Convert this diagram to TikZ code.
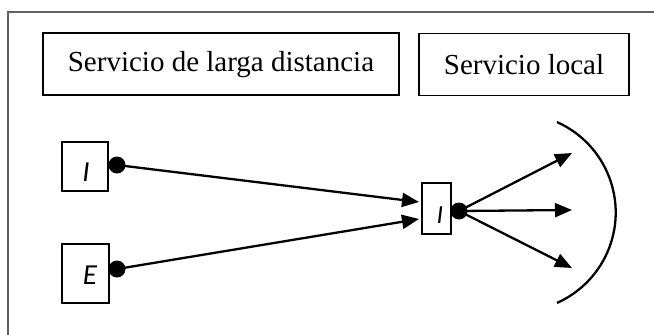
\documentclass[tikz,border=0pt]{standalone}
\usepackage{fontspec}
\setmainfont{Liberation Serif}
\newfontfamily\letterfont{Carlito}
\usetikzlibrary{arrows.meta}
\tikzset{
  headbox/.style={draw=black, line width=1.9pt, inner sep=0pt, font=\fontsize{29}{32}\selectfont},
  portbox/.style={draw=black, line width=1.6pt, inner sep=0pt},
  letter/.style={inner sep=0pt, font=\letterfont\itshape\fontsize{29}{31}\selectfont},
  port/.style={circle, fill=black, inner sep=0pt, minimum size=17pt},
  link/.style={line width=2.3pt, -{Triangle[length=17pt,width=14pt]}}
}
\begin{document}
\begin{tikzpicture}[x=1pt, y=-1pt]
  \useasboundingbox (0,0) rectangle (654,335);
  \clip (0,0) rectangle (654,335);
  \fill[white] (0,0) rectangle (654,335);
  % outer frame, running past the right and bottom edges
  \draw[gray!75!black, line width=1.5pt] (8,12) rectangle (670,350);

  % service headings
  \node[headbox, minimum width=356pt, minimum height=62pt] (lds) at (221,64.2) {Servicio de larga distancia};
  \node[headbox, minimum width=210pt, minimum height=62pt] (ls) at (524,64.5) {Servicio local};

  % source boxes
  \node[portbox, minimum width=46pt, minimum height=49pt] (bI) at (85,166.5) {};
  \node[letter] (tI) at (86,172.5) {I};
  \node[portbox, minimum width=47pt, minimum height=59pt] (bE) at (85.5,273.5) {};
  \node[letter] (tE) at (90,275) {E};

  % central box
  \node[portbox, minimum width=29pt, minimum height=51pt] (bC) at (436.5,208.5) {};
  \node[letter, font=\letterfont\itshape\fontsize{26}{28}\selectfont] (tC) at (440,215.5) {I};

  % connection points
  \node[port] (dI) at (117,165) {};
  \node[port] (dE) at (117,269) {};
  \node[port] (dC) at (459,211) {};

  % arrow ends
  \coordinate (inI) at (419,202);
  \coordinate (inE) at (419,219);
  \coordinate (o1) at (572,153);
  \coordinate (o2) at (572,210);
  \coordinate (o3) at (572,268);

  \draw[link] (dI.center) -- (inI);
  \draw[link] (dE.center) -- (inE);
  \draw[link] (dC.center) -- (o1);
  \draw[link] (dC.center) -- (o2);
  \draw[link] (dC.center) -- (o3);

  % service area boundary
  \draw[line width=2.3pt] (516.7,212.5) ++(-66:99) arc[start angle=-66, end angle=66, radius=99];
\end{tikzpicture}
\end{document}
